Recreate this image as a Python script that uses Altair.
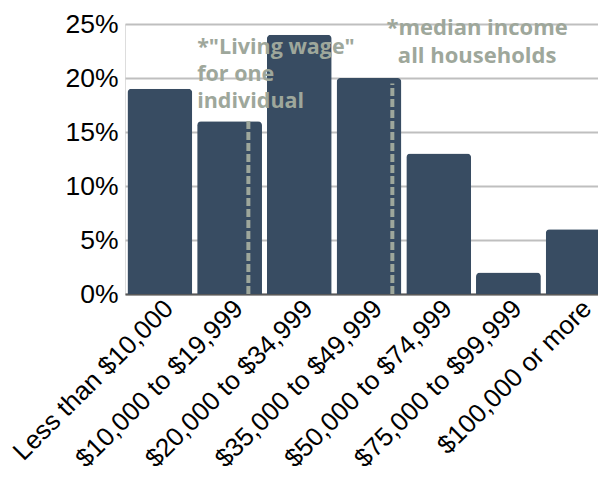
import altair as alt
import pandas as pd

categories = ["Less than $10,000", "$10,000 to $19,999", "$20,000 to $34,999",
              "$35,000 to $49,999", "$50,000 to $74,999", "$75,000 to $99,999",
              "$100,000 or more"]
values = [19, 16, 24, 20, 13, 2, 6]

# reference lines: category, position within the bar, top value
living_cat, living_pos, living_top = "$10,000 to $19,999", 0.79, 16.2
median_cat, median_pos, median_top = "$35,000 to $49,999", 0.86, 19.5

living_text = ["*\"Living wage\"", "for one", "individual"]
median_text = ["*median income", "all households"]

df = pd.DataFrame({"cat": categories, "val": values})

BAR = "#384c62"
ANN = "#9ea79b"

# the last bar runs past the right edge of the picture, as in the reference
xscale = alt.Scale(domain=categories, paddingInner=0.07, paddingOuter=0.035, range=[0, 488])
yscale = alt.Scale(domain=[0, 25])

base = alt.Chart(df)

bars = base.mark_bar(color=BAR, cornerRadiusTopLeft=4, cornerRadiusTopRight=4).encode(
    x=alt.X("cat:N", scale=xscale, sort=categories, title=None,
            axis=alt.Axis(labelAngle=-45, labelFontSize=26, labelFont="Liberation Sans",
                          labelColor="#000000", ticks=False, domainColor="#595959",
                          domainWidth=2, labelPadding=1, labelLimit=400)),
    y=alt.Y("val:Q", scale=yscale, title=None,
            axis=alt.Axis(values=[0, 5, 10, 15, 20, 25], labelExpr="datum.value + '%'",
                          labelFontSize=26.5, labelFont="Liberation Sans", labelColor="#000000",
                          domain=False, ticks=False, gridColor="#bfbfbf", gridWidth=2,
                          labelPadding=7)),
)

def rule(cat, pos, top):
    d = pd.DataFrame({"cat": [cat], "y0": [0], "y1": [top]})
    return alt.Chart(d).mark_rule(color=ANN, strokeWidth=4, strokeDash=[8, 3]).encode(
        x=alt.X("cat:N", scale=xscale, sort=categories, bandPosition=pos),
        y=alt.Y("y0:Q", scale=yscale),
        y2="y1:Q",
    )

r1 = rule(living_cat, living_pos, living_top)
r2 = rule(median_cat, median_pos, median_top)

t1 = alt.Chart(pd.DataFrame({"cat": [living_cat], "y": [22.2]})).mark_text(
    align="left", baseline="alphabetic", font="Open Sans", fontWeight="bold",
    fontSize=21.5, lineHeight=27, color=ANN
).encode(
    x=alt.X("cat:N", scale=xscale, sort=categories, bandPosition=0),
    y=alt.Y("y:Q", scale=yscale),
    text=alt.value(living_text),
)

t2 = alt.Chart(pd.DataFrame({"cat": ["$50,000 to $74,999"], "y": [24.0]})).mark_text(
    align="center", baseline="alphabetic", font="Open Sans", fontWeight="bold",
    fontSize=22, lineHeight=28, color=ANN, dx=6
).encode(
    x=alt.X("cat:N", scale=xscale, sort=categories, bandPosition=1),
    y=alt.Y("y:Q", scale=yscale),
    text=alt.value(median_text),
)

chart = alt.layer(bars, r1, r2, t1, t2).properties(
    width=473, height=270,
    autosize=alt.AutoSizeParams(type="none"),
    padding={"top": 16, "left": 117, "right": 0, "bottom": 185},
).configure_view(stroke=None).configure(background="white")

chart.save("out.html", embed_options={"renderer": "svg", "actions": False})
